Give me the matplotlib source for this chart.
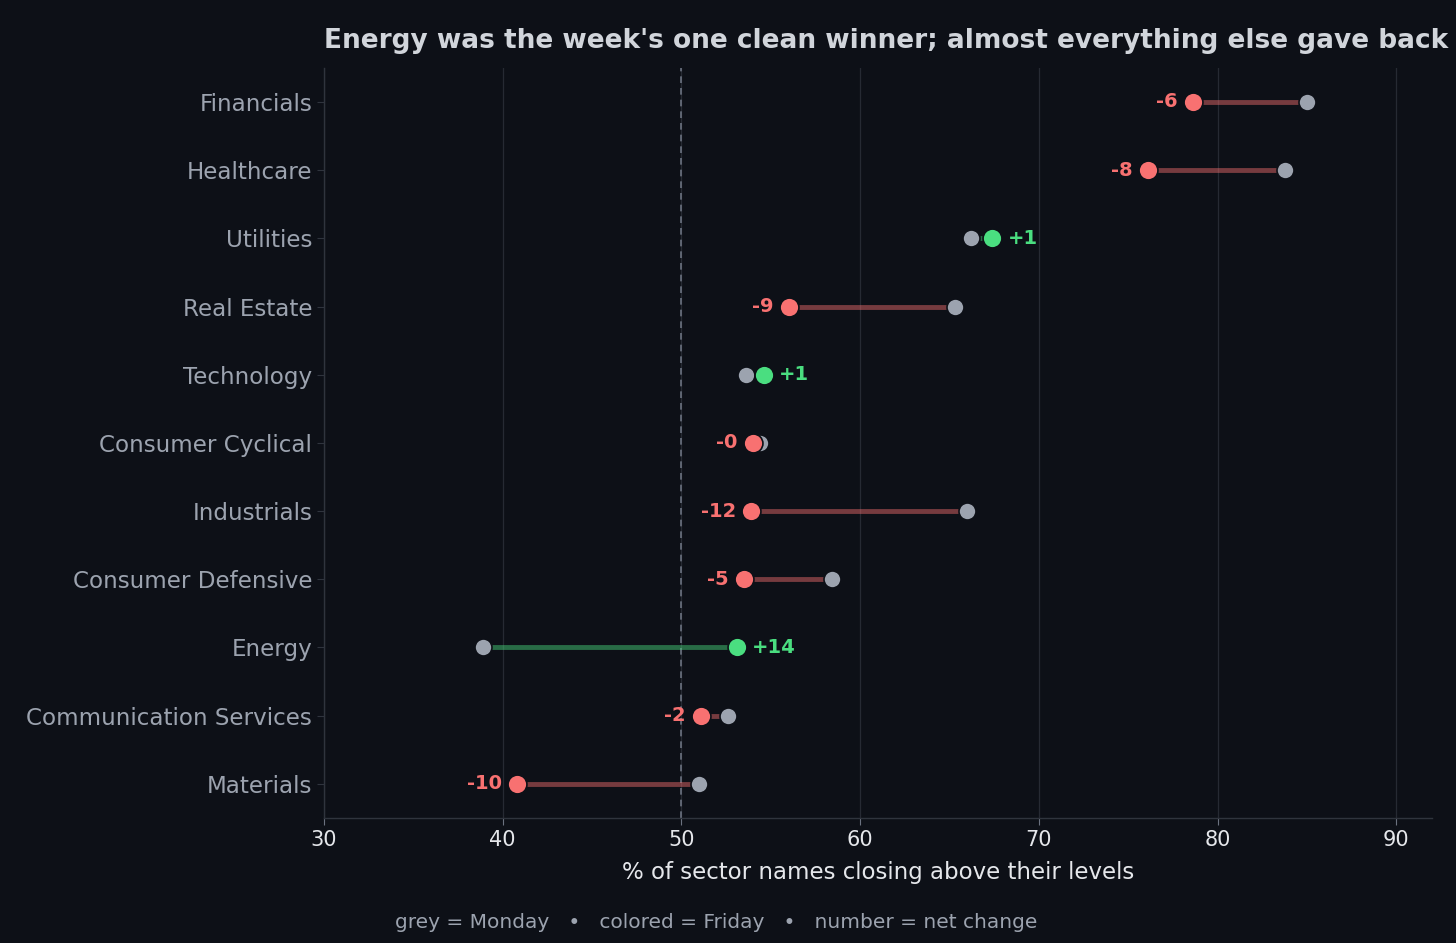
import matplotlib
matplotlib.use("Agg")
import matplotlib.pyplot as plt

# sectors, top to bottom
sectors = ["Financials", "Healthcare", "Utilities", "Real Estate", "Technology",
           "Consumer Cyclical", "Industrials", "Consumer Defensive", "Energy",
           "Communication Services", "Materials"]
monday = [85.0, 83.8, 66.2, 65.3, 53.6, 54.4, 66.0, 58.4, 38.9, 52.6, 51.0]
friday = [78.6, 76.1, 67.4, 56.0, 54.6, 54.0, 53.9, 53.5, 53.1, 51.1, 40.8]
change_labels = ["-6", "-8", "+1", "-9", "+1", "-0", "-12", "-5", "+14", "-2", "-10"]

BG = "#0d1017"
GREY = "#9ca3af"
RED = "#f87171"
GREEN = "#4ade80"

fig = plt.figure(figsize=(14.56, 9.43), dpi=100, facecolor=BG)
ax = fig.add_axes([0.2225, 0.1326, 0.761, 0.7954])
ax.set_facecolor(BG)

ys = list(range(len(sectors)))

ax.axvline(50, color="#6b7280", lw=1.2, ls=(0, (4, 3)), zorder=1)

for y, m, f, lab in zip(ys, monday, friday, change_labels):
    up = f > m
    col = GREEN if up else RED
    ax.plot([m, f], [y, y], color=col, lw=3.5, alpha=0.45, zorder=2,
            solid_capstyle="butt")
    ax.scatter([m], [y], s=150, color=GREY, edgecolor=BG, linewidth=1.2, zorder=3)
    ax.scatter([f], [y], s=185, color=col, edgecolor=BG, linewidth=1.2, zorder=4)
    if up:
        ax.annotate(lab, (f, y), xytext=(11, 0), textcoords="offset points",
                    ha="left", va="center", color=col, fontsize=14,
                    fontweight="bold")
    else:
        ax.annotate(lab, (f, y), xytext=(-11, 0), textcoords="offset points",
                    ha="right", va="center", color=col, fontsize=14,
                    fontweight="bold")

ax.set_yticks(ys)
ax.set_yticklabels(sectors)
ax.set_ylim(len(sectors) - 0.5, -0.5)
ax.set_xlim(30, 92)
ax.set_xticks([30, 40, 50, 60, 70, 80, 90])

ax.grid(axis="x", color="#262a33", lw=0.9, zorder=0)
ax.set_axisbelow(True)

for s in ["top", "right"]:
    ax.spines[s].set_visible(False)
for s in ["left", "bottom"]:
    ax.spines[s].set_color("#2f343d")
    ax.spines[s].set_linewidth(1)

ax.tick_params(axis="y", colors="#2f343d", labelcolor=GREY, labelsize=16.6, length=5)
ax.tick_params(axis="x", colors="#6b7280", labelcolor="#e5e7eb", labelsize=15, length=5)

ax.set_xlabel("% of sector names closing above their levels", color="#e5e7eb",
              fontsize=16.5, labelpad=8)
ax.set_title("Energy was the week's one clean winner; almost everything else gave back",
             loc="left", color="#d1d5db", fontsize=19, fontweight="bold", pad=14)

fig.text(0.4918, 0.022, "grey = Monday   \u2022   colored = Friday   \u2022   number = net change",
         ha="center", va="center", color=GREY, fontsize=14.5)

fig.savefig("out.png", dpi=100, facecolor=BG)
